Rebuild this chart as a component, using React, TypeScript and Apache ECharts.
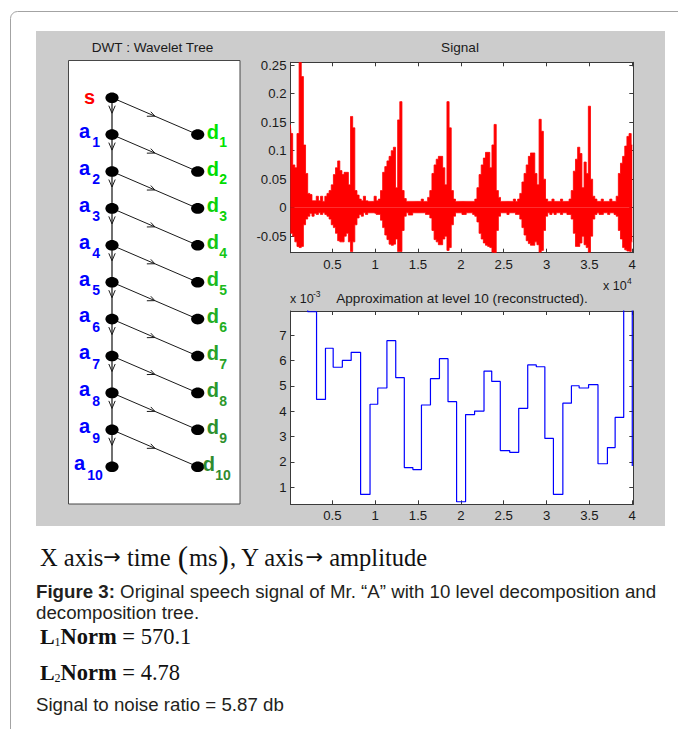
import React, { useEffect, useRef } from "react";
import * as echarts from "echarts";

// ---------- data ----------
const timeTicks = [0.5, 1, 1.5, 2, 2.5, 3, 3.5, 4];
const signalTicks = [-0.05, 0, 0.05, 0.1, 0.15, 0.2, 0.25];
const approxTicks = [1, 2, 3, 4, 5, 6, 7];

// speech signal envelope (x 10^4 samples), upper and lower excursions
const signalTime = [
  0.01, 0.025, 0.05, 0.075, 0.1, 0.125, 0.15, 0.175, 0.2, 0.225, 0.25, 0.275, 0.3, 0.325, 0.35, 0.375, 0.4, 0.425, 0.45, 0.475,
  0.5, 0.525, 0.55, 0.575, 0.6, 0.625, 0.65, 0.675, 0.7, 0.725, 0.75, 0.775, 0.8, 0.825, 0.85, 0.875, 0.9, 0.925, 0.95, 0.975,
  1.0, 1.025, 1.05, 1.075, 1.1, 1.125, 1.15, 1.175, 1.2, 1.225, 1.25, 1.275, 1.3, 1.325, 1.35, 1.375, 1.4, 1.425, 1.45, 1.475,
  1.5, 1.525, 1.55, 1.575, 1.6, 1.625, 1.65, 1.675, 1.7, 1.725, 1.75, 1.775, 1.8, 1.825, 1.85, 1.875, 1.9, 1.925, 1.95, 1.975,
  2.0, 2.025, 2.05, 2.075, 2.1, 2.125, 2.15, 2.175, 2.2, 2.225, 2.25, 2.275, 2.3, 2.325, 2.35, 2.375, 2.4, 2.425, 2.45, 2.475,
  2.5, 2.525, 2.55, 2.575, 2.6, 2.625, 2.65, 2.675, 2.7, 2.725, 2.75, 2.775, 2.8, 2.825, 2.85, 2.875, 2.9, 2.925, 2.95, 2.975,
  3.0, 3.025, 3.05, 3.075, 3.1, 3.125, 3.15, 3.175, 3.2, 3.225, 3.25, 3.275, 3.3, 3.325, 3.35, 3.375, 3.4, 3.425, 3.45, 3.475,
  3.5, 3.525, 3.55, 3.575, 3.6, 3.625, 3.65, 3.675, 3.7, 3.725, 3.75, 3.775, 3.8, 3.825, 3.85, 3.875, 3.9, 3.925, 3.95, 3.975,
  4.0,
];
const signalHigh = [
  0.146, 0.13, 0.075, 0.07, 0.13, 0.255, 0.23, 0.11, 0.06, 0.025, 0.023, 0.012, 0.012, 0.02, 0.012, 0.02, 0.011, 0.02, 0.025, 0.03,
  0.04, 0.058, 0.07, 0.082, 0.065, 0.058, 0.062, 0.062, 0.04, 0.16, 0.14, 0.03, 0.022, 0.015, 0.012, 0.02, 0.012, 0.011, 0.011, 0.011,
  0.02, 0.012, 0.015, 0.03, 0.062, 0.072, 0.082, 0.09, 0.1, 0.106, 0.035, 0.154, 0.186, 0.03, 0.016, 0.011, 0.011, 0.011, 0.011, 0.011,
  0.011, 0.011, 0.015, 0.011, 0.011, 0.018, 0.03, 0.06, 0.075, 0.085, 0.09, 0.09, 0.07, 0.04, 0.186, 0.14, 0.03, 0.015, 0.011, 0.011,
  0.011, 0.011, 0.011, 0.011, 0.011, 0.011, 0.011, 0.015, 0.035, 0.058, 0.075, 0.087, 0.097, 0.097, 0.07, 0.11, 0.146, 0.03, 0.018, 0.011,
  0.011, 0.011, 0.011, 0.011, 0.011, 0.015, 0.011, 0.015, 0.025, 0.045, 0.06, 0.075, 0.09, 0.096, 0.096, 0.06, 0.04, 0.155, 0.134, 0.05,
  0.015, 0.011, 0.011, 0.015, 0.011, 0.011, 0.011, 0.015, 0.011, 0.011, 0.011, 0.015, 0.03, 0.064, 0.085, 0.106, 0.095, 0.035, 0.08, 0.06,
  0.178, 0.05, 0.02, 0.015, 0.011, 0.011, 0.015, 0.011, 0.011, 0.011, 0.015, 0.011, 0.011, 0.02, 0.06, 0.078, 0.09, 0.108, 0.125, 0.13,
  0.11,
];
const signalLow = [
  -0.044, -0.045, -0.05, -0.06, -0.068, -0.07, -0.068, -0.03, -0.02, -0.015, -0.01, -0.015, -0.01, -0.012, -0.009, -0.012, -0.009, -0.012, -0.015, -0.02,
  -0.03, -0.035, -0.045, -0.058, -0.06, -0.06, -0.05, -0.045, -0.06, -0.077, -0.06, -0.03, -0.018, -0.012, -0.015, -0.009, -0.012, -0.009, -0.009, -0.009,
  -0.01, -0.012, -0.012, -0.022, -0.035, -0.048, -0.056, -0.064, -0.066, -0.064, -0.055, -0.077, -0.077, -0.04, -0.015, -0.009, -0.013, -0.013, -0.009, -0.009,
  -0.009, -0.009, -0.009, -0.009, -0.012, -0.012, -0.018, -0.04, -0.056, -0.06, -0.065, -0.065, -0.055, -0.05, -0.075, -0.07, -0.03, -0.015, -0.009, -0.009,
  -0.009, -0.012, -0.012, -0.009, -0.009, -0.009, -0.012, -0.015, -0.025, -0.045, -0.055, -0.062, -0.066, -0.068, -0.07, -0.078, -0.079, -0.04, -0.015, -0.009,
  -0.009, -0.009, -0.012, -0.009, -0.009, -0.009, -0.012, -0.012, -0.02, -0.035, -0.048, -0.058, -0.063, -0.066, -0.066, -0.06, -0.065, -0.078, -0.075, -0.04,
  -0.015, -0.009, -0.012, -0.009, -0.012, -0.009, -0.009, -0.012, -0.009, -0.009, -0.012, -0.012, -0.02, -0.045, -0.068, -0.068, -0.062, -0.05, -0.065, -0.07,
  -0.078, -0.05, -0.02, -0.012, -0.009, -0.012, -0.012, -0.009, -0.009, -0.012, -0.009, -0.009, -0.012, -0.015, -0.04, -0.055, -0.07, -0.074, -0.076, -0.077,
  -0.06,
];

// level-10 approximation (x 10^-3), value held from each start time
const approxTime = [
  0.01, 0.213, 0.316, 0.42, 0.51, 0.617, 0.72, 0.83, 0.94, 1.03, 1.137, 1.24, 1.34, 1.44, 1.54, 1.645, 1.75, 1.85, 1.95, 2.055,
  2.16, 2.27, 2.36, 2.46, 2.57, 2.675, 2.78, 2.88, 2.98, 3.08, 3.19, 3.29, 3.38, 3.49, 3.6, 3.71, 3.8, 3.9, 4.0,
];
const approxValue = [
  8.5, 7.93, 4.47, 6.49, 5.74, 6.01, 6.33, 0.72, 4.28, 4.92, 6.79, 5.33, 1.78, 1.7, 4.25, 5.29, 6.08, 4.38, 0.43, 3.87,
  4.01, 5.59, 5.18, 2.45, 2.38, 4.12, 5.83, 5.76, 2.93, 0.72, 4.32, 5.01, 4.92, 5.05, 1.93, 2.57, 3.76, 9.0, 1.84,
];

const treeLevels = [1, 2, 3, 4, 5, 6, 7, 8, 9, 10];
const detailColors = [
  "#00e400", "#00dc00", "#0ad20a", "#14c614", "#1cba1c", "#22ae22", "#28a228", "#2b982b", "#2d902d", "#2f8b2f",
];

// ---------- styles ----------
const SANS = "'Liberation Sans', Arial, Helvetica, sans-serif";
const SERIF = "'Liberation Serif', 'Times New Roman', Times, serif";
const ARROWFONT = "'DejaVu Sans', sans-serif";
const AXIS_COLOR = "#3a3a3a";
const LABEL = { color: "#1a1a1a", fontSize: 13.2, fontFamily: SANS };

function xPair(grid: number, min: number, max: number, ticks: number[]) {
  const line = { show: true, onZero: false, lineStyle: { color: AXIS_COLOR, width: 1 } };
  const tick = { show: true, inside: true, length: 4, customValues: ticks, lineStyle: { color: AXIS_COLOR } };
  return [
    { type: "value", gridIndex: grid, position: "bottom", min, max, axisLine: line, axisTick: tick,
      axisLabel: { show: true, customValues: ticks, margin: 5, ...LABEL }, splitLine: { show: false } },
    { type: "value", gridIndex: grid, position: "top", min, max, axisLine: line, axisTick: tick,
      axisLabel: { show: false }, splitLine: { show: false } },
  ];
}
function yPair(grid: number, min: number, max: number, ticks: number[]) {
  const line = { show: true, onZero: false, lineStyle: { color: AXIS_COLOR, width: 1 } };
  const tick = { show: true, inside: true, length: 4, customValues: ticks, lineStyle: { color: AXIS_COLOR } };
  return [
    { type: "value", gridIndex: grid, position: "left", min, max, axisLine: line, axisTick: tick,
      axisLabel: { show: true, customValues: ticks, margin: 4, ...LABEL }, splitLine: { show: false } },
    { type: "value", gridIndex: grid, position: "right", min, max, axisLine: line, axisTick: tick,
      axisLabel: { show: false }, splitLine: { show: false } },
  ];
}

function txt(text: string, x: number, y: number, o: any = {}) {
  return {
    type: "text", x, y, z: o.z ?? 20, silent: true,
    style: {
      text, fill: o.fill ?? "#1a1a1a", fontSize: o.fontSize ?? 13.6, fontFamily: o.fontFamily ?? SANS,
      fontWeight: o.fontWeight ?? "normal", align: o.align ?? "left", verticalAlign: "middle", rich: o.rich,
    },
  };
}

function buildGraphics() {
  const g: any[] = [];
  // page frame and MATLAB figure background
  g.push({ type: "rect", z: -30, silent: true, shape: { x: 10.5, y: 11.5, width: 720, height: 760, r: 7 },
    style: { fill: "#ffffff", stroke: "#a3a3a3", lineWidth: 1 } });
  g.push({ type: "rect", z: -20, silent: true, shape: { x: 36, y: 31, width: 629, height: 495 }, style: { fill: "#cccccc" } });

  // titles
  g.push(txt("DWT : Wavelet Tree", 152.5, 47, { align: "center" }));
  g.push(txt("Signal", 460, 47, { align: "center" }));
  g.push(txt("Approximation at level 10 (reconstructed).", 462, 298, { align: "center" }));
  g.push(txt("x 10", 603, 285.5, { fontSize: 12.5 }));
  g.push(txt("4", 627, 281, { fontSize: 8.5 }));
  g.push(txt("x 10", 290, 298.5, { fontSize: 12.5 }));
  g.push(txt("-3", 313, 293.5, { fontSize: 8.5 }));

  // wavelet tree
  const AX = 112, DX = 197.7, Y0 = 97.7, GAP = 36.9;
  const levelY = (k: number) => Y0 + GAP * k;
  g.push({ type: "rect", z: 1, silent: true, shape: { x: 68.5, y: 60.5, width: 171.5, height: 443.5 },
    style: { fill: "#ffffff", stroke: "#474747", lineWidth: 1 } });
  g.push({ type: "line", z: 5, silent: true, shape: { x1: AX, y1: levelY(0), x2: AX, y2: levelY(10) },
    style: { stroke: "#4d4d4d", lineWidth: 1.6 } });
  const dxl = DX - AX, dyl = GAP, len = Math.hypot(dxl, dyl);
  const ux = dxl / len, uy = dyl / len;
  const arm = (ang: number, L: number) => {
    const c = Math.cos(ang), s = Math.sin(ang);
    const bx = -ux, by = -uy;
    return [L * (bx * c - by * s), L * (bx * s + by * c)];
  };
  treeLevels.forEach((k) => {
    const yp = levelY(k - 1), y = levelY(k);
    g.push({ type: "line", z: 5, silent: true, shape: { x1: AX, y1: yp, x2: DX, y2: y }, style: { stroke: "#1a1a1a", lineWidth: 1 } });
    const tx = AX + dxl * 0.5, ty = yp + dyl * 0.5;
    const a1 = arm(-0.42, 8), a2 = arm(0.42, 6);
    g.push({ type: "polyline", z: 6, silent: true,
      shape: { points: [[tx + a1[0], ty + a1[1]], [tx, ty], [tx + a2[0], ty + a2[1]]] },
      style: { stroke: "#1a1a1a", lineWidth: 1, fill: null } });
    g.push({ type: "polyline", z: 6, silent: true,
      shape: { points: [[AX - 3.2, yp + 8], [AX, yp + 15.5], [AX + 3.2, yp + 8]] },
      style: { stroke: "#1a1a1a", lineWidth: 1, fill: null } });
    g.push({ type: "ellipse", z: 7, silent: true, shape: { cx: AX, cy: y, rx: 6.6, ry: 5.3 }, style: { fill: "#000000" } });
    g.push({ type: "ellipse", z: 7, silent: true, shape: { cx: DX, cy: y, rx: 6.6, ry: 5.3 }, style: { fill: "#000000" } });
    // labels a_k and d_k
    const aLeft = k < 10 ? 79 : 74;
    g.push(txt("a", aLeft, y - 3.7, { fill: "#0000ff", fontSize: 20, fontWeight: "bold" }));
    g.push(txt(String(k), aLeft + 13.2, y + 7.8, { fill: "#0000ff", fontSize: 14, fontWeight: "bold" }));
    const dLeft = k < 10 ? 206.7 : 202.7;
    g.push(txt("d", dLeft, y - 3, { fill: detailColors[k - 1], fontSize: 20, fontWeight: "bold" }));
    g.push(txt(String(k), dLeft + 12.6, y + 7.8, { fill: detailColors[k - 1], fontSize: 14, fontWeight: "bold" }));
  });
  g.push({ type: "ellipse", z: 7, silent: true, shape: { cx: AX, cy: levelY(0), rx: 6.6, ry: 5.3 }, style: { fill: "#000000" } });
  g.push(txt("s", 84, levelY(0) - 0.7, { fill: "#ff0000", fontSize: 20, fontWeight: "bold" }));

  // text below the figure
  const serifTok = { fontFamily: SERIF, fontSize: 24.5, fill: "#111111" };
  g.push(txt("{n|X axis}{r|→}{n| time }{p|(}{n|ms}{p|)}{n|, Y axis}{r|→}{n| amplitude}", 40, 557, {
    fontFamily: SERIF, fontSize: 24.5, fill: "#111111",
    rich: {
      n: serifTok,
      p: { fontFamily: SERIF, fontSize: 31, fill: "#111111", padding: [0, 1, 0, 1] },
      r: { fontFamily: ARROWFONT, fontSize: 21, fill: "#111111" },
    },
  }));
  const cap = { fontSize: 18.7, fill: "#231f20" };
  g.push(txt("{b|Figure 3:}{n| Original speech signal of Mr. “A” with 10 level decomposition and}", 36, 591, {
    ...cap,
    rich: {
      b: { fontFamily: SANS, fontSize: 18.7, fontWeight: "bold", fill: "#231f20" },
      n: { fontFamily: SANS, fontSize: 18.7, fill: "#231f20" },
    },
  }));
  g.push(txt("decomposition tree.", 36, 612, cap));
  const norms = [["1", "570.1", 636], ["2", "4.78", 672]] as const;
  norms.forEach(([sub, val, y]) => {
    g.push(txt("L", 40, y, { fontFamily: SERIF, fontSize: 22, fontWeight: "bold", fill: "#111111" }));
    g.push(txt(sub, 54.5, y + 6, { fontFamily: SERIF, fontSize: 12, fill: "#111111" }));
    g.push(txt(`{b|Norm}{n| = ${val}}`, 60.5, y, {
      fontFamily: SERIF, fontSize: 22.5, fill: "#111111",
      rich: {
        b: { fontFamily: SERIF, fontSize: 22.5, fontWeight: "bold", fill: "#111111" },
        n: { fontFamily: SERIF, fontSize: 22.5, fill: "#111111" },
      },
    }));
  });
  g.push(txt("Signal to noise ratio = 5.87 db", 36, 704, cap));
  return g;
}

export default function App() {
  const ref = useRef<HTMLDivElement>(null);
  useEffect(() => {
    if (!ref.current) return;
    const chart = echarts.init(ref.current, null, { renderer: "svg" });
    const option: any = {
      animation: false,
      backgroundColor: "#ffffff",
      grid: [
        { left: 290.5, top: 62.3, width: 342.8, height: 190.4, show: true, backgroundColor: "#ffffff", borderWidth: 0 },
        { left: 290.5, top: 311, width: 342.8, height: 193.3, show: true, backgroundColor: "#ffffff", borderWidth: 0 },
      ],
      xAxis: [...xPair(0, 0.012, 4.012, timeTicks), ...xPair(1, 0.012, 4.012, timeTicks)],
      yAxis: [...yPair(0, -0.079, 0.255, signalTicks), ...yPair(1, 0.33, 7.96, approxTicks)],
      series: [
        {
          name: "Signal upper", type: "line", xAxisIndex: 0, yAxisIndex: 0, step: "middle", symbol: "none",
          data: signalTime.map((t, i) => [t, signalHigh[i]]),
          lineStyle: { color: "#ff0000", width: 0.8 }, areaStyle: { color: "#ff0000", opacity: 1, origin: "auto" },
        },
        {
          name: "Signal lower", type: "line", xAxisIndex: 0, yAxisIndex: 0, step: "middle", symbol: "none",
          data: signalTime.map((t, i) => [t, signalLow[i]]),
          lineStyle: { color: "#ff0000", width: 0.8 }, areaStyle: { color: "#ff0000", opacity: 1, origin: "auto" },
        },
        {
          name: "Approximation a10", type: "line", xAxisIndex: 2, yAxisIndex: 2, step: "end", symbol: "none",
          data: approxTime.map((t, i) => [t, approxValue[i]]),
          lineStyle: { color: "#0000ff", width: 1.2 },
        },
      ],
      graphic: { elements: buildGraphics() },
    };
    chart.setOption(option);
    return () => chart.dispose();
  }, []);
  return <div ref={ref} style={{ position: "absolute", left: 0, top: 0, width: 678, height: 729 }} />;
}
